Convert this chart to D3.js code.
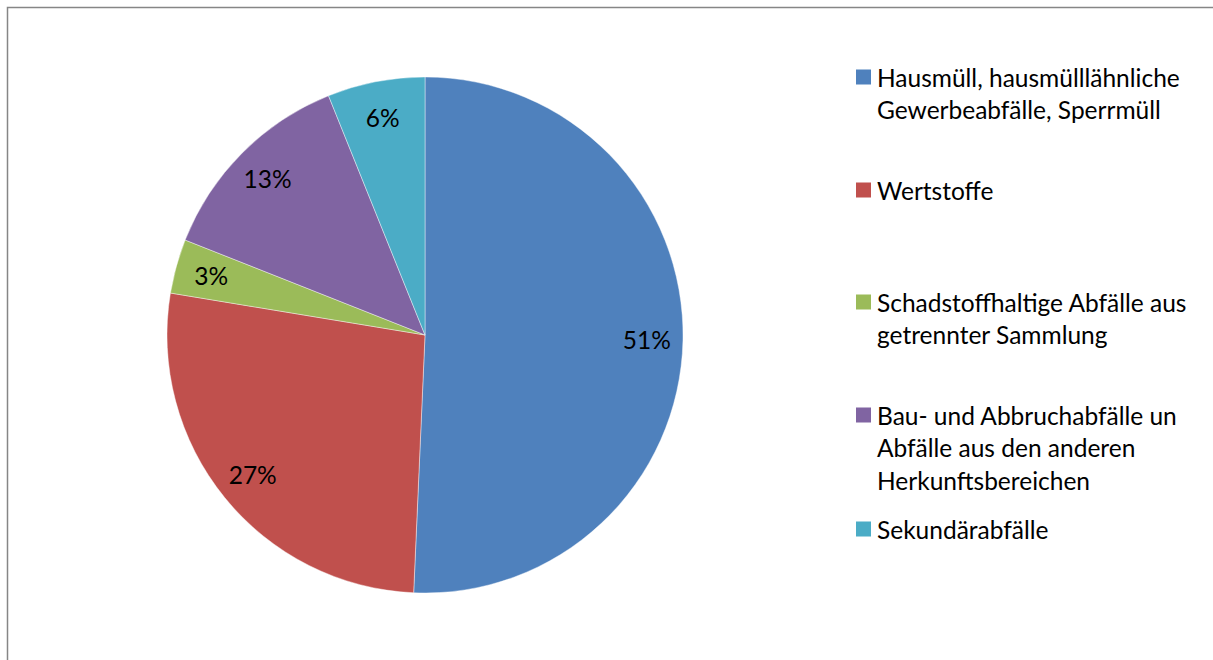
<!DOCTYPE html>
<html><head><meta charset="utf-8">
<script src="https://cdn.jsdelivr.net/npm/d3@7"></script>
<style>html,body{margin:0;padding:0;background:#fff;overflow:hidden;}svg{display:block;}</style>
</head><body>
<svg id="c" width="1213" height="660"></svg>
<script>
const categories = [
  "Hausmüll, hausmülllähnliche Gewerbeabfälle, Sperrmüll",
  "Wertstoffe",
  "Schadstoffhaltige Abfälle aus getrennter Sammlung",
  "Bau- und Abbruchabfälle un Abfälle aus den anderen Herkunftsbereichen",
  "Sekundärabfälle"
];
const values = [50.7, 26.9, 3.4, 12.9, 6.1];
const labels = ["51%", "27%", "3%", "13%", "6%"];
const legendLines = [
  ["Hausmüll, hausmülllähnliche", "Gewerbeabfälle, Sperrmüll"],
  ["Wertstoffe"],
  ["Schadstoffhaltige Abfälle aus", "getrennter Sammlung"],
  ["Bau- und Abbruchabfälle un", "Abfälle aus den anderen", "Herkunftsbereichen"],
  ["Sekundärabfälle"]
];
const colors = ["#4F81BD", "#C0504D", "#9BBB59", "#8064A2", "#4BACC6"];

const svg = d3.select("#c");
const font = "Lato, 'Open Sans', sans-serif";

svg.append("path").attr("d", "M7.5,700V7.5H1240")
  .attr("fill", "none").attr("stroke", "#868686").attr("stroke-width", 1.5);

const cx = 425, cy = 335, R = 258;
const color = d3.scaleOrdinal().domain(categories).range(colors);
const pie = d3.pie().sort(null).value(d => d.v);
const data = categories.map((c, i) => ({c, v: values[i], l: labels[i]}));
const arcs = pie(data);
const arc = d3.arc().innerRadius(0).outerRadius(R);
const labelArc = d3.arc().innerRadius(R * 0.86).outerRadius(R * 0.86);

const g = svg.append("g").attr("transform", `translate(${cx},${cy})`);
g.selectAll("path").data(arcs).join("path")
  .attr("d", arc).attr("fill", d => color(d.data.c))
  .attr("stroke", "#fff").attr("stroke-width", 0.6).attr("stroke-opacity", 0.7);
g.selectAll("text").data(arcs).join("text")
  .attr("transform", d => `translate(${labelArc.centroid(d)})`)
  .attr("text-anchor", "middle").attr("dominant-baseline", "central")
  .attr("font-family", font).attr("font-size", 24.5).attr("fill", "#000")
  .text(d => d.data.l);

const legendY = [77, 190, 302, 415, 529];
const lg = svg.append("g");
categories.forEach((c, i) => {
  lg.append("rect").attr("x", 856).attr("y", legendY[i] - 7.5).attr("width", 15).attr("height", 15)
    .attr("fill", color(c));
  const t = lg.append("text").attr("font-family", font).attr("font-size", 24.5).attr("fill", "#000");
  legendLines[i].forEach((ln, j) => {
    t.append("tspan").attr("x", 877).attr("y", legendY[i] + j * 32.5)
      .attr("dominant-baseline", "central").text(ln);
  });
});
</script>
</body></html>
